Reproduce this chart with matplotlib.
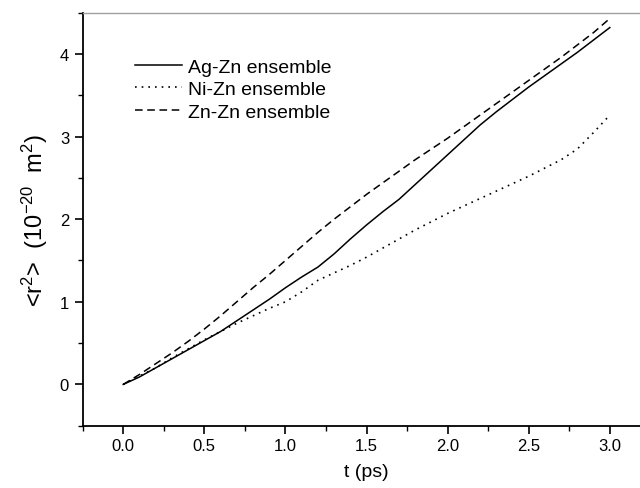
import matplotlib
matplotlib.use("Agg")
import matplotlib.pyplot as plt
import numpy as np

t = [0.0, 0.1, 0.2, 0.3, 0.4, 0.5, 0.6, 0.7, 0.8, 0.9, 1.0, 1.1, 1.2, 1.3, 1.4, 1.5,
     1.6, 1.7, 1.8, 1.9, 2.0, 2.1, 2.2, 2.3, 2.4, 2.5, 2.6, 2.7, 2.8, 2.9, 3.0]
ag_zn = [0, 0.09, 0.2, 0.31, 0.42, 0.53, 0.64, 0.77, 0.9, 1.03, 1.17, 1.3, 1.42, 1.58,
         1.76, 1.93, 2.09, 2.24, 2.42, 2.6, 2.78, 2.96, 3.14, 3.3, 3.45, 3.6, 3.74, 3.88,
         4.02, 4.17, 4.32]
ni_zn = [0, 0.1, 0.2, 0.32, 0.43, 0.54, 0.64, 0.74, 0.83, 0.92, 1.0, 1.12, 1.26, 1.35,
         1.44, 1.54, 1.65, 1.76, 1.87, 1.97, 2.07, 2.16, 2.25, 2.34, 2.43, 2.52, 2.62,
         2.72, 2.85, 3.05, 3.26]
zn_zn = [0, 0.12, 0.25, 0.38, 0.52, 0.67, 0.83, 1.0, 1.17, 1.33, 1.5, 1.67, 1.84, 2.0,
         2.15, 2.3, 2.44, 2.58, 2.72, 2.85, 2.98, 3.12, 3.26, 3.4, 3.54, 3.68, 3.82, 3.96,
         4.11, 4.26, 4.43]
labels = ["Ag-Zn ensemble", "Ni-Zn ensemble", "Zn-Zn ensemble"]
xticks = [0.0, 0.5, 1.0, 1.5, 2.0, 2.5, 3.0]
xticklabels = ["0.0", "0.5", "1.0", "1.5", "2.0", "2.5", "3.0"]
yticks = [0, 1, 2, 3, 4]

plt.rcParams['font.family'] = ['Liberation Sans', 'DejaVu Sans']
plt.rcParams['mathtext.fontset'] = 'custom'
plt.rcParams['mathtext.rm'] = 'Liberation Sans'
plt.rcParams['mathtext.it'] = 'Liberation Sans'

fig = plt.figure(figsize=(6.4, 4.89), dpi=100)
ax = fig.add_axes([0.1292, 0.1274, 0.887, 0.8446])

ax.plot(t, ag_zn, color='black', lw=1.1, ls='-', label=labels[0])
ax.plot(t, ni_zn, color='black', lw=1.2, ls=(0, (1, 3)), label=labels[1])
ax.plot(t, zn_zn, color='black', lw=1.1, ls=(0, (5, 3)), label=labels[2])

ax.set_xlim(-0.25, 3.25)
ax.set_ylim(-0.5, 4.5)
ax.set_xticks(xticks)
ax.set_xticklabels(xticklabels)
ax.set_yticks(yticks)
ax.set_xticks(np.arange(-0.25, 3.3, 0.25), minor=True)
ax.set_yticks(np.arange(-0.5, 4.6, 0.5), minor=True)

ax.spines['right'].set_visible(False)
ax.spines['top'].set_color('#a0a0a0')
ax.spines['top'].set_linewidth(1.0)
ax.spines['left'].set_linewidth(1.3)
ax.spines['bottom'].set_linewidth(1.3)
ax.tick_params(which='major', direction='out', length=5.8, width=1.2, labelsize=12,
               top=False, right=False)
ax.tick_params(which='minor', direction='out', length=3.3, width=1.0, top=False, right=False)
ax.tick_params(axis='x', which='major', pad=3)
ax.tick_params(axis='y', which='major', pad=4)

ax.set_xlabel("t (ps)", fontsize=14, labelpad=7)
ax.set_ylabel(r"<r$^2$>  (10$^{-20}$  m$^2$)", fontsize=17, labelpad=7)

leg = ax.legend(loc='upper left', bbox_to_anchor=(0.092, 0.890), frameon=False,
                fontsize=14, handlelength=2.4, handletextpad=0.35, labelspacing=0.25,
                borderpad=0, borderaxespad=0)

fig.savefig("out.png", dpi=100)
